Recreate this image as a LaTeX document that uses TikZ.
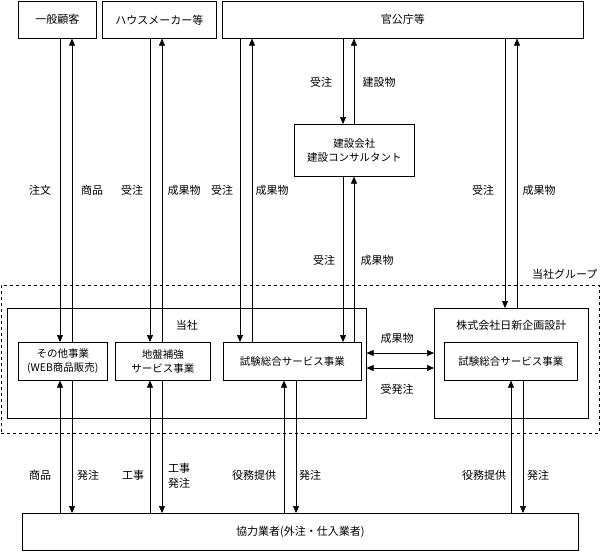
\documentclass[tikz,border=0pt]{standalone}
\usepackage{fontspec}
\setmainfont{Noto Sans CJK JP}
\usetikzlibrary{arrows.meta}

\tikzset{
  box/.style={draw, line width=0.6pt, anchor=north west, inner sep=0pt,
    align=center, font=\fontsize{11}{15}\selectfont},
  small/.style={font=\fontsize{10.5}{14}\selectfont},
  arr/.style={line width=0.6pt, -{Triangle[width=6pt,length=7pt]}},
  dbl/.style={line width=0.6pt,
    {Triangle[width=6pt,length=7pt]}-{Triangle[width=6pt,length=7pt]}},
  lbl/.style={inner sep=0pt, align=center, font=\fontsize{11}{15}\selectfont},
}

\begin{document}
\begin{tikzpicture}[x=1pt,y=-1pt]

  \useasboundingbox (0,0) rectangle (602,552);

  % Draw the customers at the top
  \node[box, minimum width=78, minimum height=37] (ippan) at (18,1) {一般顧客};
  \node[box, minimum width=114, minimum height=37] (house) at (102,1) {ハウスメーカー等};
  \node[box, minimum width=361, minimum height=37] (kancho) at (222,1) {官公庁等};

  % Construction companies
  \node[box, small, minimum width=120, minimum height=52] (kensetsu) at (294,124)
    {建設会社\\建設コンサルタント};

  % Group as a dashed rectangle
  \node[box, dashed, minimum width=598, minimum height=148] (group) at (1,285) {};
  \node[lbl, anchor=south east] (grouplbl) at ([xshift=-2,yshift=5]group.north east) {当社グループ};

  % The company and its businesses
  \node[box, minimum width=359, minimum height=110] (tosha) at (7,308) {};
  \node[lbl] (toshalbl) at ([yshift=-17]tosha.north) {当社};
  \node[box, small, minimum width=89, minimum height=38] (sonota) at (18,342)
    {その他事業\\(WEB商品販売)};
  \node[box, small, minimum width=95, minimum height=38] (jiban) at (115,342)
    {地盤補強\\サービス事業};
  \node[box, small, minimum width=138, minimum height=38] (shiken) at (223,342)
    {試験総合サービス事業};

  % Subsidiary
  \node[box, minimum width=154, minimum height=110] (nisshin) at (434,308) {};
  \node[lbl] (nisshinlbl) at ([yshift=-17]nisshin.north) {株式会社日新企画設計};
  \node[box, small, minimum width=133, minimum height=38] (shiken2) at (444,342)
    {試験総合サービス事業};

  % Partners at the bottom
  \node[box, minimum width=556, minimum height=37] (kyoryoku) at (22,513)
    {協力業者(外注・仕入業者)};

  % Columns of the arrows
  \coordinate (ca) at (60,0);
  \coordinate (cb) at (72,0);
  \coordinate (cc) at (150,0);
  \coordinate (cd) at (162,0);
  \coordinate (ce) at (240,0);
  \coordinate (cf) at (252,0);
  \coordinate (cg) at (343,0);
  \coordinate (ch) at (354,0);
  \coordinate (ci) at (505,0);
  \coordinate (cj) at (517,0);
  \coordinate (ck) at (284,0);
  \coordinate (cl) at (296,0);
  \coordinate (cm) at (511,0);
  \coordinate (cn) at (523,0);
  \coordinate (ra) at (0,353);
  \coordinate (rb) at (0,368);

  % Arrows between the customers and the businesses
  \draw[arr] (ippan.south -| ca) -- (sonota.north -| ca);
  \draw[arr] (sonota.north -| cb) -- (ippan.south -| cb);
  \draw[arr] (house.south -| cc) -- (jiban.north -| cc);
  \draw[arr] (jiban.north -| cd) -- (house.south -| cd);
  \draw[arr] (kancho.south -| ce) -- (shiken.north -| ce);
  \draw[arr] (shiken.north -| cf) -- (kancho.south -| cf);
  \draw[arr] (kancho.south -| cg) -- (kensetsu.north -| cg);
  \draw[arr] (kensetsu.north -| ch) -- (kancho.south -| ch);
  \draw[arr] (kensetsu.south -| cg) -- (shiken.north -| cg);
  \draw[arr] (shiken.north -| ch) -- (kensetsu.south -| ch);
  \draw[arr] (kancho.south -| ci) -- (nisshin.north -| ci);
  \draw[arr] (nisshin.north -| cj) -- (kancho.south -| cj);

  % Arrows between the company and the subsidiary
  \draw[dbl] (tosha.east |- ra) -- (nisshin.west |- ra);
  \draw[dbl] (tosha.east |- rb) -- (nisshin.west |- rb);

  % Arrows to the partners
  \draw[arr] (kyoryoku.north -| ca) -- (sonota.south -| ca);
  \draw[arr] (sonota.south -| cb) -- (kyoryoku.north -| cb);
  \draw[arr] (kyoryoku.north -| cc) -- (jiban.south -| cc);
  \draw[arr] (jiban.south -| cd) -- (kyoryoku.north -| cd);
  \draw[arr] (kyoryoku.north -| ck) -- (shiken.south -| ck);
  \draw[arr] (shiken.south -| cl) -- (kyoryoku.north -| cl);
  \draw[arr] (kyoryoku.north -| cm) -- (shiken2.south -| cm);
  \draw[arr] (shiken2.south -| cn) -- (kyoryoku.north -| cn);

  % Labels of the arrows
  \node[lbl] (l1) at (40,190) {注文};
  \node[lbl] (l2) at (92,190) {商品};
  \node[lbl] (l3) at (132,190) {受注};
  \node[lbl] (l4) at (184,190) {成果物};
  \node[lbl] (l5) at (222,190) {受注};
  \node[lbl] (l6) at (272,190) {成果物};
  \node[lbl] (l7) at (321,82) {受注};
  \node[lbl] (l8) at (379,82) {建設物};
  \node[lbl] (l9) at (324,260) {受注};
  \node[lbl] (l10) at (377,260) {成果物};
  \node[lbl] (l11) at (483,190) {受注};
  \node[lbl] (l12) at (539,190) {成果物};
  \node[lbl] (l13) at (397,338) {成果物};
  \node[lbl] (l14) at (397,389) {受発注};
  \node[lbl] (l15) at (40,475) {商品};
  \node[lbl] (l16) at (88,475) {発注};
  \node[lbl] (l17) at (133,475) {工事};
  \node[lbl] (l18) at (179,476) {工事\\発注};
  \node[lbl] (l19) at (254,475) {役務提供};
  \node[lbl] (l20) at (310,475) {発注};
  \node[lbl] (l21) at (484,475) {役務提供};
  \node[lbl] (l22) at (538,475) {発注};

\end{tikzpicture}
\end{document}
